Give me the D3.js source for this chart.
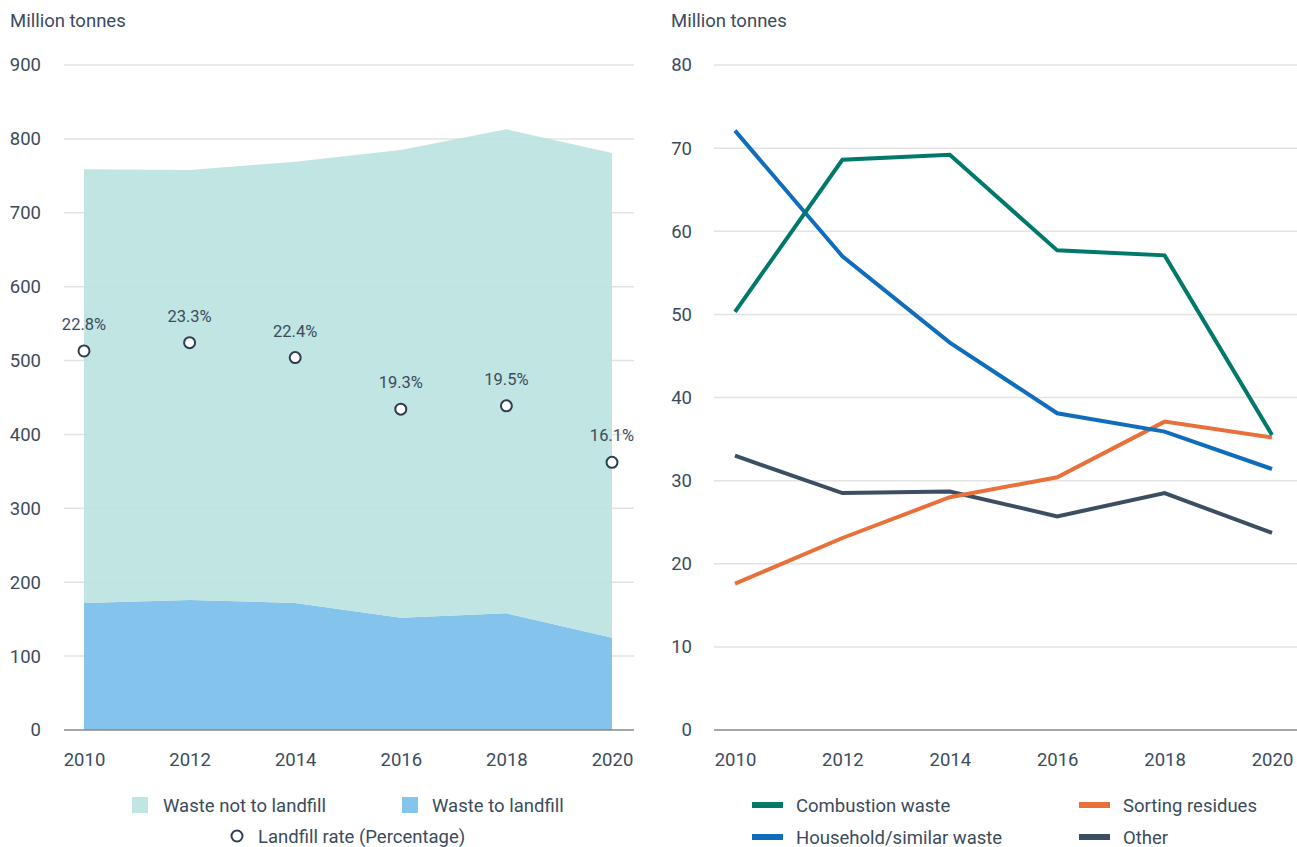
<!DOCTYPE html>
<html>
<head>
<meta charset="utf-8">
<script src="https://cdn.jsdelivr.net/npm/d3@7"></script>
<style>
  body { margin: 0; background: #fff; }
  svg { font-family: Roboto, "Noto Sans", sans-serif; }
</style>
</head>
<body>
<svg id="svg" width="1297" height="847"></svg>
<script>
// data
var years = [2010, 2012, 2014, 2016, 2018, 2020];
var wasteToLandfill = [172, 176, 172, 152, 158, 125];
var wasteNotToLandfill = [587, 582, 597, 633, 655, 656];
var landfillRate = [22.8, 23.3, 22.4, 19.3, 19.5, 16.1];
var leftTicks = [0, 100, 200, 300, 400, 500, 600, 700, 800, 900];

var combustion = [50.3, 68.6, 69.2, 57.7, 57.1, 35.5];
var household = [72.1, 57.0, 46.6, 38.1, 35.9, 31.4];
var sorting = [17.6, 23.1, 28.0, 30.4, 37.1, 35.2];
var other = [33.0, 28.5, 28.7, 25.7, 28.5, 23.7];
var rightTicks = [0, 10, 20, 30, 40, 50, 60, 70, 80];

var textColor = '#3b4b5c';
var gridColor = '#e3e3e3';
var fs = 18.5;
var svg = d3.select('#svg');

// ---------- left chart ----------
var xL = d3.scalePoint().domain(years).range([84, 612]);
var yL = d3.scaleLinear().domain([0, 900]).range([730, 65]);
var yRate = d3.scaleLinear().domain([0, 40]).range([730, 65]);

svg.append('text').attr('x', 10).attr('y', 27).text('Million tonnes')
  .attr('font-size', fs).attr('fill', textColor);

var gridL = svg.append('g');
gridL.selectAll('line').data(leftTicks.slice(1)).enter().append('line')
  .attr('x1', 64).attr('x2', 634)
  .attr('y1', function(d){ return yL(d); }).attr('y2', function(d){ return yL(d); })
  .attr('stroke', gridColor).attr('stroke-width', 1.5);

var tableL = years.map(function(y, i){
  return { year: y, landfill: wasteToLandfill[i], notLandfill: wasteNotToLandfill[i] };
});
var stack = d3.stack().keys(['landfill', 'notLandfill'])(tableL);
var areaColors = { landfill: '#77bde9', notLandfill: '#b9e2df' };
var area = d3.area()
  .x(function(d){ return xL(d.data.year); })
  .y0(function(d){ return yL(d[0]); })
  .y1(function(d){ return yL(d[1]); });

svg.append('g').selectAll('path').data(stack).enter().append('path')
  .attr('d', area)
  .attr('fill', function(d){ return areaColors[d.key]; })
  .attr('fill-opacity', 0.9);

svg.append('line').attr('x1', 64).attr('x2', 634).attr('y1', yL(0)).attr('y2', yL(0))
  .attr('stroke', '#8a8a8a').attr('stroke-width', 1.5);

var yAxisL = svg.append('g').attr('transform', 'translate(41,0)')
  .call(d3.axisLeft(yL).tickValues(leftTicks).tickSize(0).tickPadding(0));
yAxisL.select('.domain').remove();
yAxisL.selectAll('text').attr('font-size', fs).attr('fill', textColor).attr('font-family', 'Roboto');

var xAxisL = svg.append('g').attr('transform', 'translate(0,753)')
  .call(d3.axisBottom(xL).tickSize(0).tickPadding(0).tickFormat(d3.format('d')));
xAxisL.select('.domain').remove();
xAxisL.selectAll('text').attr('font-size', fs).attr('fill', textColor).attr('font-family', 'Roboto');

var rateG = svg.append('g');
rateG.selectAll('circle').data(landfillRate).enter().append('circle')
  .attr('cx', function(d, i){ return xL(years[i]); })
  .attr('cy', function(d){ return yRate(d); })
  .attr('r', 5.5)
  .attr('fill', '#fff').attr('stroke', '#2e3d4f').attr('stroke-width', 2);
rateG.selectAll('text').data(landfillRate).enter().append('text')
  .attr('x', function(d, i){ return xL(years[i]); })
  .attr('y', function(d){ return yRate(d) - 21; })
  .attr('text-anchor', 'middle').attr('font-size', 16.5).attr('fill', textColor)
  .text(function(d){ return d.toFixed(1) + '%'; });

// left legend
var legL = svg.append('g');
legL.append('rect').attr('x', 132).attr('y', 797).attr('width', 16).attr('height', 16).attr('fill', '#c1e5e2');
legL.append('text').attr('x', 163).attr('y', 812).text('Waste not to landfill').attr('font-size', fs).attr('fill', textColor);
legL.append('rect').attr('x', 402).attr('y', 797).attr('width', 16).attr('height', 16).attr('fill', '#85c5ec');
legL.append('text').attr('x', 432).attr('y', 812).text('Waste to landfill').attr('font-size', fs).attr('fill', textColor);
legL.append('circle').attr('cx', 237).attr('cy', 836).attr('r', 5.5).attr('fill', '#fff').attr('stroke', '#2e3d4f').attr('stroke-width', 2);
legL.append('text').attr('x', 258).attr('y', 843).text('Landfill rate (Percentage)').attr('font-size', fs).attr('fill', textColor);

// ---------- right chart ----------
var xR = d3.scalePoint().domain(years).range([735, 1272]);
var yR = d3.scaleLinear().domain([0, 80]).range([730, 65]);

svg.append('text').attr('x', 671).attr('y', 27).text('Million tonnes')
  .attr('font-size', fs).attr('fill', textColor);

svg.append('g').selectAll('line').data(rightTicks.slice(1)).enter().append('line')
  .attr('x1', 714).attr('x2', 1297)
  .attr('y1', function(d){ return yR(d); }).attr('y2', function(d){ return yR(d); })
  .attr('stroke', gridColor).attr('stroke-width', 1.5);
svg.append('line').attr('x1', 714).attr('x2', 1297).attr('y1', yR(0)).attr('y2', yR(0))
  .attr('stroke', '#8a8a8a').attr('stroke-width', 1.5);

var yAxisR = svg.append('g').attr('transform', 'translate(692,0)')
  .call(d3.axisLeft(yR).tickValues(rightTicks).tickSize(0).tickPadding(0));
yAxisR.select('.domain').remove();
yAxisR.selectAll('text').attr('font-size', fs).attr('fill', textColor).attr('font-family', 'Roboto');

var xAxisR = svg.append('g').attr('transform', 'translate(0,753)')
  .call(d3.axisBottom(xR).tickSize(0).tickPadding(0).tickFormat(d3.format('d')));
xAxisR.select('.domain').remove();
xAxisR.selectAll('text').attr('font-size', fs).attr('fill', textColor).attr('font-family', 'Roboto');

var series = [
  { name: 'Combustion waste', values: combustion, color: '#00796b' },
  { name: 'Household/similar waste', values: household, color: '#0f6dbb' },
  { name: 'Sorting residues', values: sorting, color: '#e8703a' },
  { name: 'Other', values: other, color: '#3c4e62' }
];
var line = d3.line()
  .x(function(d, i){ return xR(years[i]); })
  .y(function(d){ return yR(d); });

// draw order: other, sorting, household, combustion
svg.append('g').selectAll('path').data([series[3], series[2], series[1], series[0]]).enter().append('path')
  .attr('d', function(d){ return line(d.values); })
  .attr('fill', 'none')
  .attr('stroke', function(d){ return d.color; })
  .attr('stroke-width', 4);

// right legend
var legPos = [[752, 805], [1079, 805], [752, 837], [1079, 837]];
var legOrder = [series[0], series[2], series[1], series[3]];
var legR = svg.append('g');
legOrder.forEach(function(s, i){
  var p = legPos[i];
  legR.append('rect').attr('x', p[0]).attr('y', p[1] - 3).attr('width', 31).attr('height', 6).attr('fill', s.color);
  legR.append('text').attr('x', p[0] + 44).attr('y', p[1] + 6.5).text(s.name).attr('font-size', fs).attr('fill', textColor);
});
</script>
</body>
</html>
